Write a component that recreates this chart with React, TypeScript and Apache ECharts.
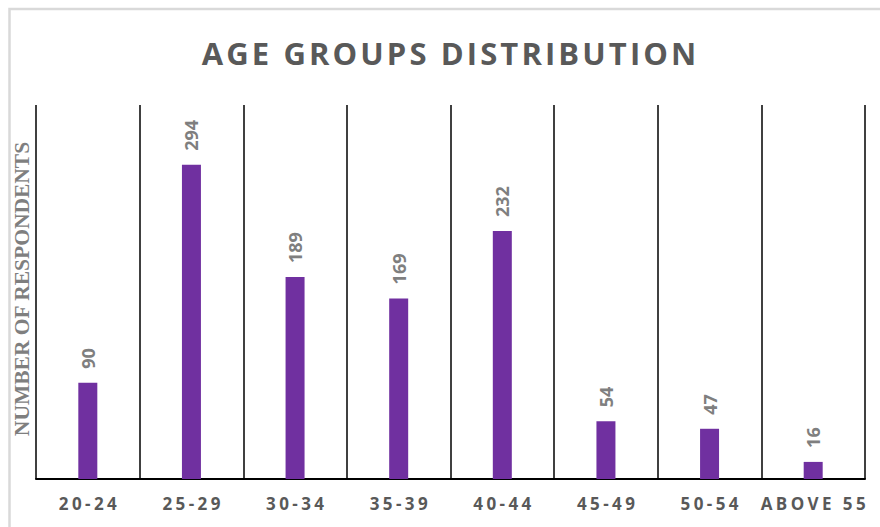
import React, { useEffect, useRef } from "react";
import * as echarts from "echarts";

const categories = ["20-24", "25-29", "30-34", "35-39", "40-44", "45-49", "50-54", "ABOVE 55"];
const respondents = [90, 294, 189, 169, 232, 54, 47, 16];

const titleText = "AGE GROUPS DISTRIBUTION";
const yAxisTitle = "NUMBER OF RESPONDENTS";

// widen glyph spacing with hair spaces
const spaced = (s: string, n = 1) => s.split("").join("\u200A".repeat(n));

export default function App() {
  const ref = useRef<HTMLDivElement>(null);

  useEffect(() => {
    document.body.style.margin = "0";
    document.body.style.overflow = "hidden";
    if (!ref.current) return;
    const chart = echarts.init(ref.current, null, { renderer: "svg" });
    chart.setOption({
      animation: false,
      backgroundColor: "#ffffff",
      grid: { left: 36, right: 15, top: 105, bottom: 48 },
      xAxis: {
        type: "category",
        data: categories,
        boundaryGap: true,
        axisLine: { show: true, lineStyle: { color: "#000000", width: 2 } },
        axisTick: { show: false },
        splitLine: { show: true, lineStyle: { color: "#000000", width: 1.5 } },
        axisLabel: {
          interval: 0,
          margin: 16,
          color: "#595959",
          fontFamily: "Open Sans",
          fontWeight: "bold",
          fontSize: 17,
          formatter: (v: string) => spaced(v, 2),
        },
      },
      yAxis: {
        type: "value",
        min: 0,
        max: 350,
        axisLine: { show: false },
        axisTick: { show: false },
        axisLabel: { show: false },
        splitLine: { show: false },
      },
      series: [
        {
          type: "bar",
          data: respondents,
          barWidth: 19,
          itemStyle: { color: "#7030A0" },
          label: {
            show: true,
            position: "top",
            distance: 14,
            rotate: 90,
            align: "left",
            verticalAlign: "middle",
            color: "#7f7f7f",
            fontFamily: "Open Sans",
            fontWeight: "bold",
            fontSize: 18,
          },
        },
      ],
      graphic: [
        {
          type: "rect",
          shape: { x: 9.5, y: 9, width: 1000, height: 1000 },
          style: { fill: "none", stroke: "#d9d9d9", lineWidth: 2.5 },
          silent: true,
          z: -1,
        },
        {
          type: "text",
          x: 449,
          y: 53,
          style: {
            text: spaced(titleText),
            fill: "#595959",
            font: "bold 31px 'Open Sans'",
            align: "center",
            verticalAlign: "middle",
          },
        },
        {
          type: "text",
          x: 22,
          y: 289,
          rotation: Math.PI / 2,
          style: {
            text: yAxisTitle,
            fill: "#7f7f7f",
            font: "bold 21.5px 'Liberation Serif'",
            align: "center",
            verticalAlign: "middle",
          },
        },
      ],
    });
    return () => chart.dispose();
  }, []);

  return <div ref={ref} style={{ width: 880, height: 527 }} />;
}
